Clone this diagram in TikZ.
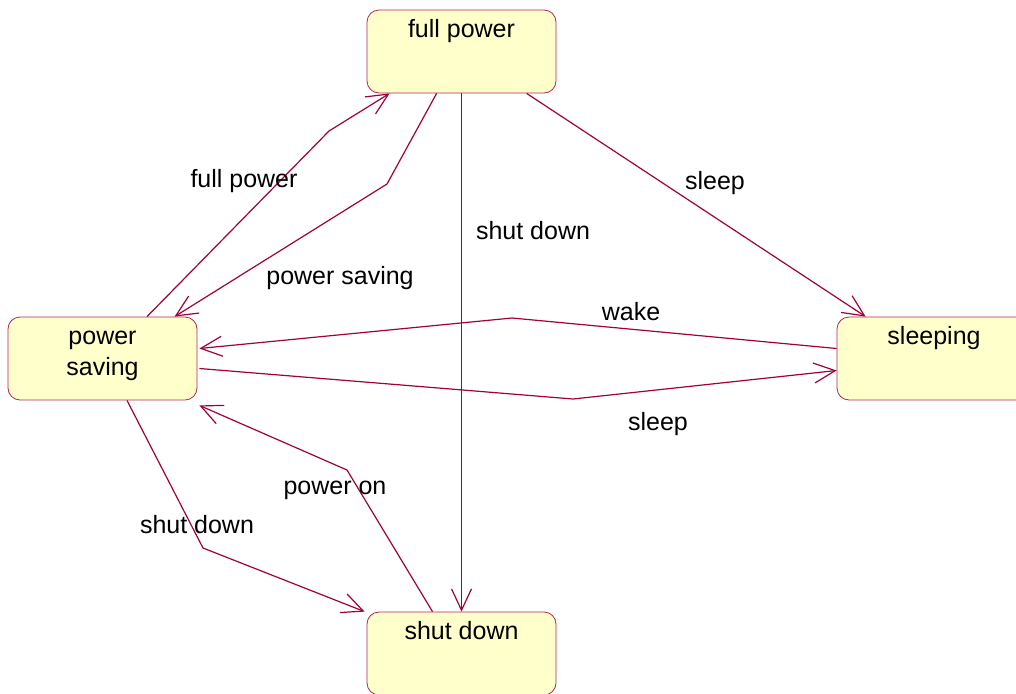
\documentclass[tikz,border=0pt]{standalone}
\usepackage{fontspec}
\setmainfont{Liberation Sans}
\usetikzlibrary{arrows.meta,calc}
\definecolor{linered}{RGB}{160,0,60}
\definecolor{boxred}{RGB}{175,40,85}
\definecolor{boxfill}{RGB}{255,255,204}
\tikzset{
  state/.style={draw=boxred, fill=boxfill, rounded corners=9pt, line width=0.6pt,
    minimum width=141.75pt, inner sep=0pt, align=center,
    text height=20.25pt, text depth=42pt, font=\fontsize{18.75pt}{23.25pt}\selectfont},
  trans/.style={draw=linered, line width=0.9pt, -{Straight Barb[length=16pt,width=15pt]}},
  lbl/.style={inner sep=0pt, font=\fontsize{18.75pt}{23.25pt}\selectfont}
}
\begin{document}
\begin{tikzpicture}[x=0.75pt,y=0.75pt,yscale=-1,xscale=1]
        \clip (0,0) rectangle (1016,693);

        %States
        \node[state] (fp) at (461.5,51.5) {full power};
        \node[state, text height=43.5pt, text depth=18.75pt] (ps) at (102.5,358.5) {power\\saving};
        \node[state, minimum width=145.5pt] (sl) at (934,358.5) {sleeping};
        \node[state] (sd) at (461.5,653.5) {shut down};

        %Transitions from full power
        \draw[trans] ($(fp.south west)+(70,0)$) -- (387,184) -- ($(ps.north west)+(167,0)$);
        \draw[trans] (fp.south) -- (sd.north);
        \draw[trans] ($(fp.south west)+(160,0)$) -- ($(sl.north west)+(29,0)$);

        %Transitions from power saving
        \draw[trans] ($(ps.north)+(44.5,0)$) -- (329,131) -- ($(fp.south west)+(23,0)$);
        \draw[trans] ($(ps.east)+(2,10)$) -- (573,399) -- ($(sl.west)+(0,12)$);
        \draw[trans] ($(ps.south)+(24.5,0)$) -- (203,548) -- ($(sd.north west)+(-2,0)$);

        %Transitions back to power saving
        \draw[trans] ($(sl.west)+(0,-10)$) -- (512,318) -- ($(ps.east)+(2,-10)$);
        \draw[trans] ($(sd.north)+(-29,0)$) -- (347,470) -- ($(ps.south east)+(2,5)$);

        %Labels
        \node[lbl] (lfull) at (244,181) {full power};
        \node[lbl] (lsave) at (340,278) {power saving};
        \node[lbl] (lshut) at (533,231) {shut down};
        \node[lbl] (lsleepa) at (715,183) {sleep};
        \node[lbl] (lwake) at (631,312) {wake};
        \node[lbl] (lsleepb) at (658,424) {sleep};
        \node[lbl] (lon) at (335,490) {power on};
        \node[lbl] (lshutb) at (197,525) {shut down};
\end{tikzpicture}
\end{document}
